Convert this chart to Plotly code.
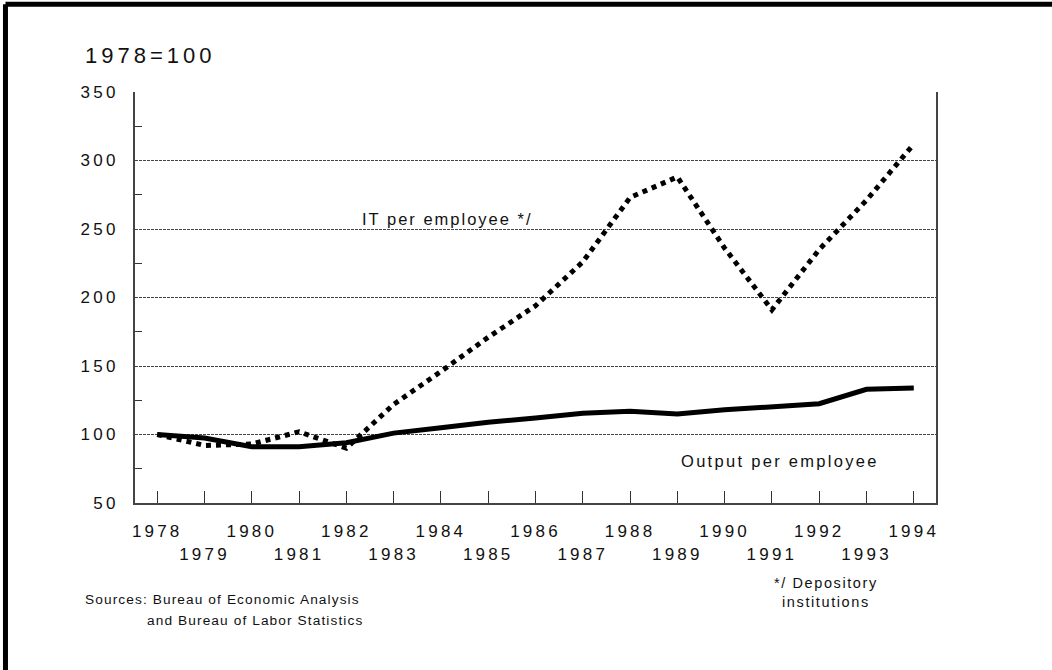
import plotly.graph_objects as go

years = list(range(1978, 1995))
output_per_employee = [100, 97.5, 91, 91, 94, 101, 105, 109, 112, 115.5, 117, 115, 118, 120.5, 122.5, 133, 134]
it_per_employee = [100, 92, 93, 102, 90, 122, 146, 171, 194, 226, 273, 288, 236, 191, 235, 271, 312]

y_ticks = [50, 100, 150, 200, 250, 300, 350]
even_years = [y for y in years if y % 2 == 0]
odd_years = [y for y in years if y % 2 == 1]

FONT = "Liberation Sans, Arial, Helvetica, sans-serif"


def sp(text, px):
    return f'<span style="letter-spacing:{px}px">{text}</span>'


fig = go.Figure()

fig.add_trace(go.Scatter(
    x=years, y=it_per_employee, mode="lines",
    line=dict(color="black", width=5, dash="5px,5px"),
    xaxis="x", yaxis="y", showlegend=False, hoverinfo="skip"))
fig.add_trace(go.Scatter(
    x=years, y=output_per_employee, mode="lines",
    line=dict(color="black", width=5),
    xaxis="x", yaxis="y", showlegend=False, hoverinfo="skip"))

xr = [1977.53, 1994.47]

fig.update_layout(
    width=1052, height=670,
    margin=dict(l=135, r=116, t=92, b=167),
    paper_bgcolor="white", plot_bgcolor="white",
    font=dict(family=FONT, size=16, color="#111"),
    xaxis=dict(
        range=xr, tickmode="array", tickvals=years,
        ticktext=[sp(str(y), 3.2) if y % 2 == 0 else "" for y in years],
        ticks="inside", ticklen=12, tickwidth=1, tickcolor="#333",
        showline=True, linecolor="#444", linewidth=1.5,
        showgrid=False, zeroline=False, ticklabelstandoff=12,
        tickfont=dict(size=17, family=FONT, color="#111"),
    ),
    xaxis2=dict(
        range=xr, overlaying="x", anchor="y", side="bottom",
        tickmode="array", tickvals=odd_years,
        ticktext=[sp(str(y), 3.2) for y in odd_years],
        ticks="", showline=False, showgrid=False, zeroline=False,
        ticklabelstandoff=39,
        tickfont=dict(size=17, family=FONT, color="#111"),
    ),
    yaxis=dict(
        range=[50, 350], tickmode="array", tickvals=y_ticks,
        ticktext=[sp(str(v), 3.3) for v in y_ticks],
        ticks="", showline=True, mirror=True, linecolor="#444", linewidth=1.5,
        showgrid=True, gridcolor="#444", gridwidth=1, griddash="3px,1px",
        zeroline=False, ticklabelstandoff=11,
        minor=dict(tickmode="array", tickvals=[75, 125, 175, 225, 275, 325],
                   ticks="inside", ticklen=7, tickcolor="#333", showgrid=False),
        tickfont=dict(size=17, family=FONT, color="#111"),
    ),
)

# dummy trace so xaxis2 renders
fig.add_trace(go.Scatter(x=[years[0]], y=[None], xaxis="x2", yaxis="y",
                         mode="markers", showlegend=False, hoverinfo="skip"))

annotations = [
    dict(text=sp("1978=100", 4), xref="paper", yref="paper", x=-0.065, y=1.090,
         xanchor="left", yanchor="middle", showarrow=False, font=dict(size=22)),
    dict(text=sp("IT per employee */", 2.0), xref="x", yref="y", x=1984.14, y=257.3,
         xanchor="center", yanchor="middle", showarrow=False, font=dict(size=16.5)),
    dict(text=sp("Output per employee", 2.3), xref="x", yref="y", x=1991.17, y=80.7,
         xanchor="center", yanchor="middle", showarrow=False, font=dict(size=16.5)),
    dict(text=sp("*/ Depository", 1.6) + "<br>" + sp("institutions", 1.6),
         xref="paper", yref="paper", x=0.8627, y=-0.2178,
         xanchor="center", yanchor="middle", showarrow=False, align="center",
         font=dict(size=14.5)),
    dict(text=sp("Sources: Bureau of Economic Analysis", 1.1), xref="paper", yref="paper",
         x=-0.0645, y=-0.2336, xanchor="left", yanchor="middle", showarrow=False,
         font=dict(size=13.7)),
    dict(text=sp("and Bureau of Labor Statistics", 1.1), xref="paper", yref="paper",
         x=0.0125, y=-0.2847, xanchor="left", yanchor="middle", showarrow=False,
         font=dict(size=13.7)),
]
fig.update_layout(annotations=annotations)

# outer frame (top and left edges visible in the reference)
fig.add_shape(type="line", xref="paper", yref="paper", x0=-0.1617, x1=1.2,
              y0=1.2134, y1=1.2134, line=dict(color="black", width=5))
fig.add_shape(type="line", xref="paper", yref="paper", x0=-0.1617, x1=-0.1617,
              y0=1.2134, y1=-0.5, line=dict(color="black", width=5))

fig.write_html("out.html",
               config={"displayModeBar": False},
               post_script="document.body.style.margin='0';document.body.style.overflow='hidden';")
